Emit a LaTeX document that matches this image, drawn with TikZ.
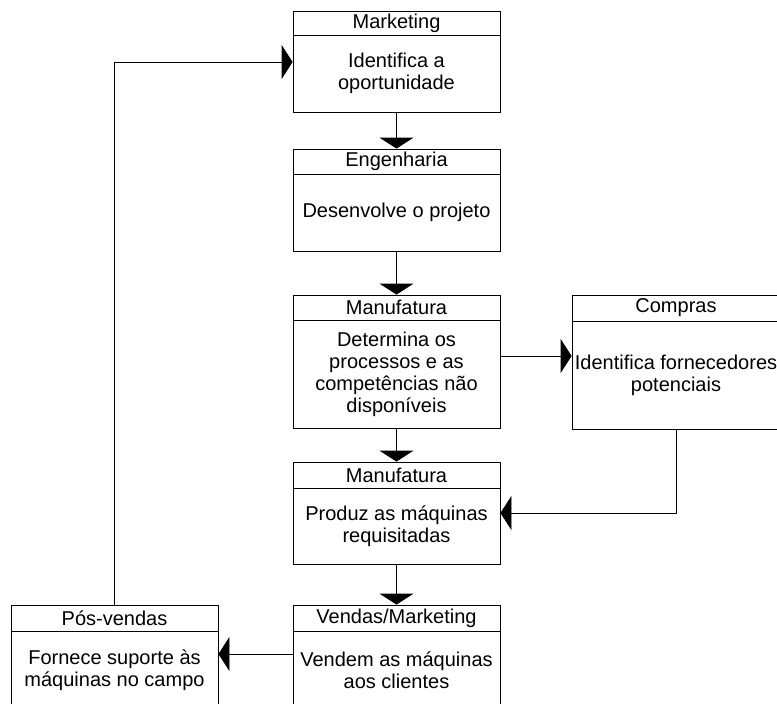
\documentclass[tikz,border=0pt]{standalone}
\usepackage{fontspec}
\setmainfont{Liberation Sans}
\usetikzlibrary{arrows.meta}

\tikzset{
  boxline/.style={draw=black, line width=0.8pt},
  hdr/.style={boxline, rectangle, inner sep=0pt, minimum width=207pt,
    font=\fontsize{20pt}{22pt}\selectfont},
  bodybox/.style={boxline, rectangle, inner sep=0pt, minimum width=207pt,
    align=center, font=\fontsize{20pt}{22pt}\selectfont},
  flow/.style={line width=0.8pt, -{Triangle[length=11pt, width=34pt]}},
}

\begin{document}
\begin{tikzpicture}[x=1pt, y=-1pt]
  \useasboundingbox (0,0) rectangle (777,704);
  \clip (0,0) rectangle (777,704);

  % main column
  \node[hdr, minimum height=24pt] (mktH) at (396.5,23) {Marketing};
  \node[bodybox, minimum height=77pt] (mktB) at (396.5,73.5) {Identifica a\\oportunidade};

  \node[hdr, minimum height=25pt] (engH) at (396.5,161.5) {Engenharia};
  \node[bodybox, minimum height=77pt] (engB) at (396.5,212.5) {Desenvolve o projeto};

  \node[hdr, minimum height=25pt] (manAH) at (396.5,307.5) {Manufatura};
  \node[bodybox, minimum height=108pt] (manAB) at (396.5,374) {Determina os\\processos e as\\competências não\\disponíveis};

  \node[hdr, minimum height=26pt] (manBH) at (396.5,475) {Manufatura};
  \node[bodybox, minimum height=76pt] (manBB) at (396.5,526) {Produz as máquinas\\requisitadas};

  \node[hdr, minimum height=26pt] (vendH) at (396.5,618) {Vendas/Marketing};
  \node[bodybox, minimum height=78pt] (vendB) at (396.5,670) {Vendem as máquinas\\aos clientes};

  % side boxes
  \node[hdr, minimum width=208pt, minimum height=26pt] (compH) at (676,308) {Compras};
  \node[bodybox, minimum width=208pt, minimum height=108pt] (compB) at (676,375) {Identifica fornecedores\\potenciais};

  \node[hdr, minimum height=26pt] (posH) at (114.5,618) {Pós-vendas};
  \node[bodybox, minimum height=78pt] (posB) at (114.5,670) {Fornece suporte às\\máquinas no campo};

  % connectors
  \draw[flow] (mktB.south) -- (engH.north);
  \draw[flow] (engB.south) -- (manAH.north);
  \draw[flow] (manAB.south) -- (manBH.north);
  \draw[flow] (manBB.south) -- (vendH.north);
  \draw[flow] ([yshift=18pt]manAB.east) -- ([yshift=18pt]manAB.east -| compB.west);
  \draw[flow] (compB.south) |- ([yshift=13pt]manBB.east);
  \draw[flow] ([yshift=16pt]vendB.west) -- ([yshift=16pt]vendB.west -| posB.east);
  \draw[flow] (posH.north) |- ([yshift=11.5pt]mktB.west);
\end{tikzpicture}
\end{document}
